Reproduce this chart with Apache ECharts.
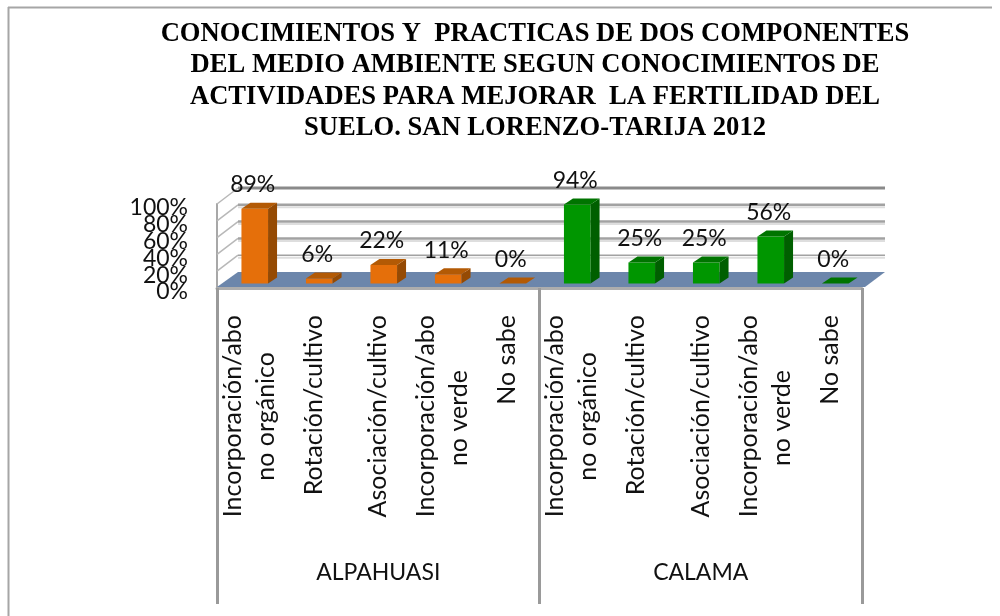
<!DOCTYPE html>
<html>
<head>
<meta charset="utf-8">
<style>html,body{margin:0;padding:0;background:#fff}#c{width:1000px;height:616px}</style>
<script src="https://cdn.jsdelivr.net/npm/echarts@6/dist/echarts.min.js"></script>
</head>
<body>
<div id="c"></div>
<script>
const titleText = "CONOCIMIENTOS Y  PRACTICAS DE DOS COMPONENTES\nDEL MEDIO AMBIENTE SEGUN CONOCIMIENTOS DE\nACTIVIDADES PARA MEJORAR  LA FERTILIDAD DEL\nSUELO. SAN LORENZO-TARIJA 2012";
const categories = [
  "Incorporación/abo\nno orgánico", "Rotación/cultivo", "Asociación/cultivo", "Incorporación/abo\nno verde", "No sabe",
  "Incorporación/abo\nno orgánico", "Rotación/cultivo", "Asociación/cultivo", "Incorporación/abo\nno verde", "No sabe"
];
const groups = ["ALPAHUASI", "CALAMA"];
const alpahuasi = [89, 6, 22, 11, 0];
const calama = [94, 25, 25, 56, 0];
const wallTicks = [20, 40, 60, 80, 100];

const DEPTH_X = 21, DEPTH_Y = -16;      // oblique offset of the back wall
const BAR_W = 26.6, BAR_DX = 9, BAR_DY = -6;
const BAR_SHIFT_X = 5.5, BAR_SHIFT_Y = -4.5;
const LABEL_FONT = 'Lato, "Open Sans", sans-serif';
const TEXT = '#111';

function poly(points, fill, z) {
  return { type: 'polygon', shape: { points }, style: { fill }, z2: z || 0 };
}
function barRenderer(front, side, top) {
  return function (params, api) {
    const p = api.coord([api.value(0), api.value(1)]);
    const base = api.coord([api.value(0), 0]);
    const xl = p[0] + BAR_SHIFT_X - BAR_W / 2, xr = xl + BAR_W;
    const yb = base[1] + BAR_SHIFT_Y, yt = p[1] + BAR_SHIFT_Y;
    const kids = [];
    if (yb - yt > 0.5) {
      kids.push(poly([[xl, yt], [xr, yt], [xr, yb], [xl, yb]], front));
      kids.push(poly([[xr, yt], [xr + BAR_DX, yt + BAR_DY], [xr + BAR_DX, yb + BAR_DY], [xr, yb]], side));
    }
    kids.push(poly([[xl, yt], [xl + BAR_DX, yt + BAR_DY], [xr + BAR_DX, yt + BAR_DY], [xr, yt]], top));
    kids.push({
      type: 'text',
      style: {
        text: api.value(1) + '%', x: p[0] + BAR_SHIFT_X - 2, y: yt - 24,
        align: 'center', verticalAlign: 'middle',
        font: '23px ' + LABEL_FONT, fill: TEXT
      },
      z2: 5
    });
    return { type: 'group', children: kids };
  };
}
function wallRenderer(params, api) {
  const v = api.value(0);
  const a = api.coord([0, v]);
  const left = a[0] - (api.size([1, 0])[0]) / 2;
  const right = left + api.size([1, 0])[0] * categories.length;
  const y = a[1];
  const heavy = v === 100;
  const w = heavy ? 3 : (v === 20 ? 1.5 : 2.5);
  const c = heavy ? '#8a8a8a' : '#a2a2a2';
  const kids = [
    { type: 'line', shape: { x1: left, y1: y, x2: left + DEPTH_X, y2: y + DEPTH_Y }, style: { stroke: '#b8b8b8', lineWidth: 1.5 } },
    { type: 'line', shape: { x1: left + DEPTH_X, y1: y + DEPTH_Y, x2: right + DEPTH_X + 2, y2: y + DEPTH_Y }, style: { stroke: c, lineWidth: w } }
  ];
  if (!heavy) kids.push({ type: 'line', shape: { x1: left + DEPTH_X, y1: y + DEPTH_Y + 2.5, x2: right + DEPTH_X + 2, y2: y + DEPTH_Y + 2.5 }, style: { stroke: '#dedede', lineWidth: 2 } });
  return { type: 'group', children: kids };
}
function floorRenderer(params, api) {
  const a = api.coord([0, 0]);
  const w = api.size([1, 0])[0];
  const left = a[0] - w / 2, right = left + w * categories.length, y = a[1] - 1;
  return poly([[left, y], [right + 3, y], [right + DEPTH_X + 2, y + DEPTH_Y + 1], [left + DEPTH_X, y + DEPTH_Y + 1]], '#6c86ab');
}
// The percent labels overlap in the reference, so alternate ticks live on two coincident axes.
function percentAxis(showLine, keep) {
  return {
    type: 'value', min: 0, max: 100, interval: 20, position: 'left',
    axisLine: { show: showLine, lineStyle: { color: '#a8a8a8', width: 2 } },
    axisTick: { show: false },
    splitLine: { show: false },
    axisLabel: {
      formatter: function (v) { return keep(v) ? v + '%' : ''; },
      margin: 29, color: TEXT, fontFamily: LABEL_FONT, fontSize: 23,
      lineHeight: 8, verticalAlign: 'top', showMinLabel: true, showMaxLabel: true, hideOverlap: false
    }
  };
}

const chart = echarts.init(document.getElementById('c'), null, { renderer: 'canvas' });
chart.setOption({
  animation: false,
  backgroundColor: '#fff',
  title: {
    text: titleText, left: 530, top: 13, textAlign: 'center',
    textStyle: { fontFamily: '"Liberation Serif", serif', fontWeight: 'bold', fontSize: 26.6, lineHeight: 31.6, color: '#000' }
  },
  grid: { left: 217, right: 138, top: 204, height: 84, containLabel: false },
  xAxis: [
    {
      type: 'category', data: categories, boundaryGap: true,
      axisLine: { show: true, lineStyle: { color: '#adadad', width: 3 } },
      axisTick: { show: false },
      axisLabel: {
        interval: 0, rotate: 90, margin: 27, color: TEXT, hideOverlap: false,
        fontFamily: LABEL_FONT, fontSize: 25,
        formatter: function (value) {
          const parts = value.split('\n');
          if (parts.length === 1) return '{a|' + parts[0] + '}';
          return '{a|' + parts[0] + '}\n{' + (parts[1].indexOf('verde') >= 0 ? 'c' : 'b') + '|' + parts[1] + '}';
        },
        rich: {
          a: { fontFamily: LABEL_FONT, fontSize: 25, lineHeight: 33, color: TEXT },
          b: { fontFamily: LABEL_FONT, fontSize: 25, lineHeight: 33, color: TEXT, padding: [0, 37, 0, 0] },
          c: { fontFamily: LABEL_FONT, fontSize: 25, lineHeight: 33, color: TEXT, padding: [0, 55, 0, 0] }
        }
      }
    },
    {
      type: 'category', data: groups, position: 'bottom', boundaryGap: true,
      axisLine: { show: false },
      axisTick: { show: true, length: 316, lineStyle: { color: '#9a9a9a', width: 3 } },
      axisLabel: { interval: 0, margin: 273, color: TEXT, fontFamily: LABEL_FONT, fontSize: 23 }
    }
  ],
  yAxis: [
    percentAxis(true, v => v % 40 === 0),
    percentAxis(false, v => v % 40 === 20)
  ],
  graphic: [
    { type: 'line', shape: { x1: 8.5, y1: 7, x2: 8.5, y2: 616 }, style: { stroke: '#a6a6a6', lineWidth: 2 }, z: 0 },
    { type: 'line', shape: { x1: 8, y1: 7.5, x2: 992, y2: 7.5 }, style: { stroke: '#a6a6a6', lineWidth: 2 }, z: 0 }
  ],
  series: [
    { type: 'custom', name: 'pared', coordinateSystem: 'cartesian2d', data: wallTicks.map(v => [v]), encode: { y: 0 }, renderItem: wallRenderer, z: 1, silent: true },
    { type: 'custom', name: 'piso', coordinateSystem: 'cartesian2d', data: [[0]], encode: { y: 0 }, renderItem: floorRenderer, z: 2, silent: true },
    { type: 'custom', name: groups[0], coordinateSystem: 'cartesian2d', data: alpahuasi.map((v, i) => [i, v]), encode: { x: 0, y: 1 }, renderItem: barRenderer('#e56f0a', '#954a03', '#b35a05'), z: 3 },
    { type: 'custom', name: groups[1], coordinateSystem: 'cartesian2d', data: calama.map((v, i) => [i + alpahuasi.length, v]), encode: { x: 0, y: 1 }, renderItem: barRenderer('#009600', '#005f00', '#007400'), z: 3 }
  ]
});
</script>
</body>
</html>
